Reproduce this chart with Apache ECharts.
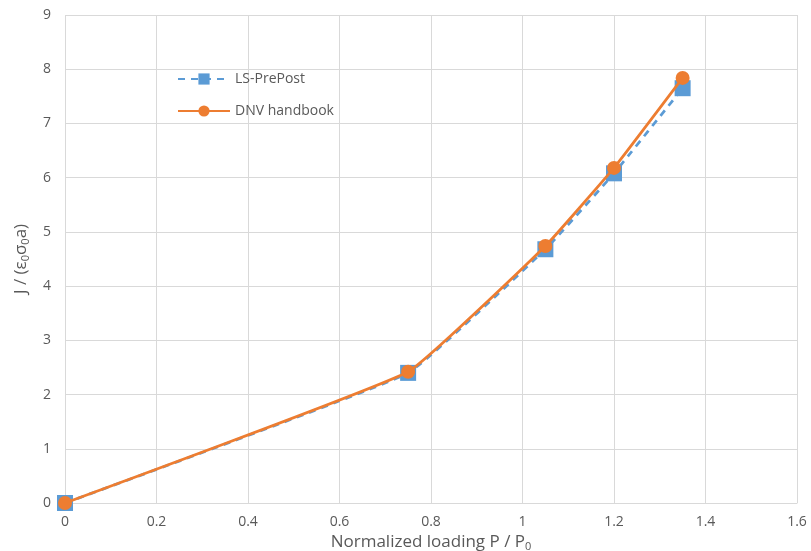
<!DOCTYPE html>
<html>
<head>
<meta charset="utf-8">
<script src="https://cdn.jsdelivr.net/npm/echarts@6/dist/echarts.min.js"></script>
<style>
  html, body { margin: 0; padding: 0; background: #fff; }
  #main { width: 811px; height: 551px; }
</style>
</head>
<body>
<div id="main"></div>
<script>
// normalized loading P / P0
var loading = [0, 0.75, 1.05, 1.2, 1.35];
var lsPrePost = [0, 2.40, 4.68, 6.08, 7.65];
var dnvHandbook = [0, 2.42, 4.74, 6.18, 7.84];

function pairs(xs, ys) {
  return xs.map(function (x, i) { return [x, ys[i]]; });
}

var chart = echarts.init(document.getElementById('main'));
var fontFamily = '"Open Sans", "Liberation Sans", sans-serif';

var option = {
  animation: false,
  textStyle: { fontFamily: fontFamily },
  grid: { left: 65, right: 14, top: 15, bottom: 48, outerBoundsMode: 'none', containLabel: false },
  legend: {
    orient: 'vertical',
    left: 172,
    top: 67,
    itemWidth: 52,
    itemHeight: 14,
    itemGap: 18,
    textStyle: { color: '#595959', fontSize: 14, fontFamily: fontFamily },
    data: ['LS-PrePost', 'DNV handbook']
  },
  xAxis: {
    type: 'value',
    min: 0,
    max: 1.6,
    interval: 0.2,
    name: 'Normalized loading P / P{sub|0}',
    nameLocation: 'middle',
    nameGap: 30,
    nameTextStyle: {
      color: '#595959',
      fontSize: 17,
      rich: { sub: { fontSize: 11, verticalAlign: 'bottom', padding: [8, 0, 0, 0], color: '#595959' } }
    },
    axisLine: { show: true, lineStyle: { color: '#D9D9D9', width: 1 } },
    axisTick: { show: false },
    axisLabel: { color: '#595959', fontSize: 14, margin: 12 },
    splitLine: { show: true, lineStyle: { color: '#D9D9D9', width: 1 } }
  },
  yAxis: {
    type: 'value',
    min: 0,
    max: 9,
    interval: 1,
    name: 'J / (ε{sub|0}σ{sub|0}a)',
    nameLocation: 'middle',
    nameGap: 34,
    nameRotate: 90,
    nameTextStyle: {
      color: '#595959',
      fontSize: 17,
      rich: { sub: { fontSize: 11, verticalAlign: 'bottom', padding: [8, 0, 0, 0], color: '#595959' } }
    },
    axisLine: { show: false },
    axisTick: { show: false },
    axisLabel: { color: '#595959', fontSize: 14, margin: 14 },
    splitLine: { show: true, lineStyle: { color: '#D9D9D9', width: 1 } }
  },
  series: [
    {
      name: 'LS-PrePost',
      type: 'line',
      data: pairs(loading, lsPrePost),
      smooth: 0.1,
      symbol: 'rect',
      symbolSize: 16,
      lineStyle: { color: '#5B9BD5', width: 2.75, type: [7, 6] },
      itemStyle: { color: '#5B9BD5' },
      z: 2
    },
    {
      name: 'DNV handbook',
      type: 'line',
      data: pairs(loading, dnvHandbook),
      smooth: 0.1,
      symbol: 'circle',
      symbolSize: 14,
      lineStyle: { color: '#ED7D31', width: 2.75 },
      itemStyle: { color: '#ED7D31' },
      z: 3
    }
  ]
};

chart.setOption(option);
</script>
</body>
</html>
